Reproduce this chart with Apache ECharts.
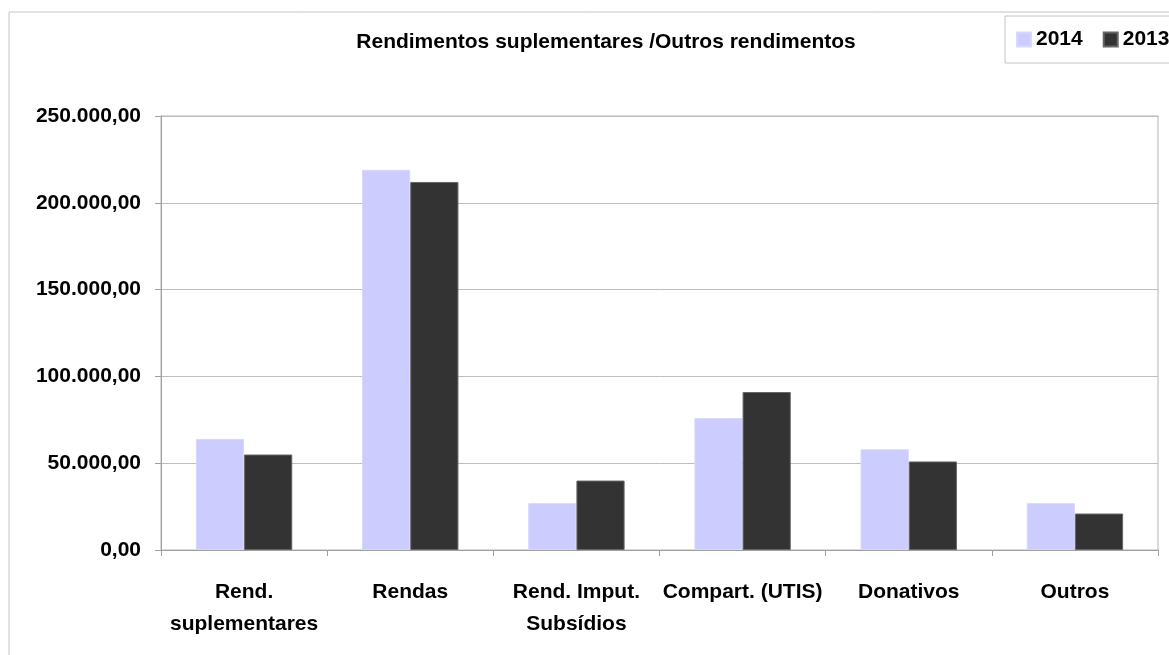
<!DOCTYPE html>
<html>
<head>
<meta charset="utf-8">
<script src="https://cdn.jsdelivr.net/npm/echarts@6/dist/echarts.min.js"></script>
<style>
  html, body { margin: 0; padding: 0; background: #fff; }
  #chart { width: 1169px; height: 655px; }
</style>
</head>
<body>
<div id="chart"></div>
<script>
const categories = [
  "Rend.\nsuplementares",
  "Rendas",
  "Rend. Imput.\nSubsídios",
  "Compart. (UTIS)",
  "Donativos",
  "Outros"
];
const values2014 = [64000, 219000, 27000, 76000, 58000, 27000];
const values2013 = [55000, 212000, 40000, 91000, 51000, 21000];

const font = "'Liberation Sans', Arial, sans-serif";

// 250000 -> "250.000,00"
const fmt = (v) => String(v).replace(/\B(?=(\d{3})+(?!\d))/g, ".") + ",00";

const chart = echarts.init(document.getElementById("chart"));

chart.setOption({
  animation: false,
  graphic: [
    {
      type: "rect",
      shape: { x: 9, y: 12, width: 1300, height: 800 },
      style: { fill: "none", stroke: "#c4c4c4", lineWidth: 1 },
      z: -1
    }
  ],
  title: {
    text: "Rendimentos suplementares /Outros rendimentos",
    left: 601,
    top: 27,
    textAlign: "center",
    textStyle: { fontFamily: font, fontWeight: "bold", fontSize: 21, color: "#000" }
  },
  legend: {
    orient: "horizontal",
    left: 1005,
    top: 16,
    width: 400,
    padding: [13, 40, 13, 11],
    borderColor: "#c4c4c4",
    borderWidth: 1,
    itemWidth: 14,
    itemHeight: 14,
    itemGap: 20,
    icon: "rect",
    textStyle: { fontFamily: font, fontWeight: "bold", fontSize: 21, color: "#000" },
    data: ["2014", "2013"]
  },
  grid: {
    left: 161,
    right: 11,
    top: 116,
    bottom: 105,
    show: true,
    borderColor: "#b4b4b4",
    borderWidth: 1
  },
  xAxis: {
    type: "category",
    data: categories,
    axisLine: { lineStyle: { color: "#a0a0a0" } },
    axisTick: { show: true, length: 6, lineStyle: { color: "#a0a0a0" } },
    axisLabel: {
      interval: 0,
      margin: 26,
      lineHeight: 32,
      fontFamily: font,
      fontWeight: "bold",
      fontSize: 21,
      color: "#000"
    }
  },
  yAxis: {
    type: "value",
    min: 0,
    max: 250000,
    interval: 50000,
    axisLine: { show: true, lineStyle: { color: "#a0a0a0" } },
    axisTick: { show: true, length: 6, lineStyle: { color: "#a0a0a0" } },
    splitLine: { lineStyle: { color: "#bdbdbd" } },
    axisLabel: {
      margin: 20,
      formatter: fmt,
      fontFamily: font,
      fontWeight: "bold",
      fontSize: 21,
      color: "#000"
    }
  },
  series: [
    {
      name: "2014",
      type: "bar",
      data: values2014,
      barGap: "0%",
      barCategoryGap: "42%",
      itemStyle: { color: "#ccccff", borderColor: "#d8d8ff", borderWidth: 1 }
    },
    {
      name: "2013",
      type: "bar",
      data: values2013,
      itemStyle: { color: "#333333", borderColor: "#666666", borderWidth: 1 }
    }
  ]
});
</script>
</body>
</html>
